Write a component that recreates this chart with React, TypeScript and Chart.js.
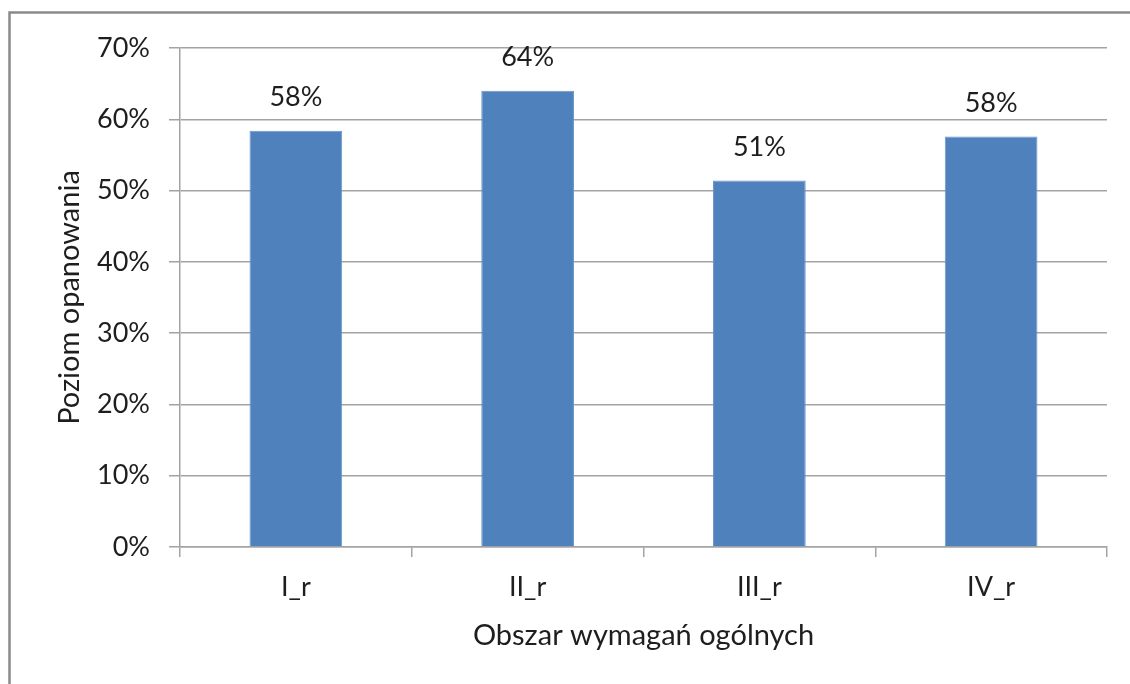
import React, { useEffect, useRef } from "react";
import { Chart, registerables } from "chart.js";

Chart.register(...registerables);

const categories = ["I_r", "II_r", "III_r", "IV_r"];
const values = [58.4, 64.0, 51.4, 57.6];
const yTicks = [0, 10, 20, 30, 40, 50, 60, 70];

const FONT = "Lato, 'Open Sans', sans-serif";
const TEXT = "#1e1e1e";
const GRID = "#a3a3a3";

const frame = {
  id: "frame",
  beforeDraw(chart: any) {
    const { ctx } = chart;
    ctx.save();
    ctx.fillStyle = "#ffffff";
    ctx.fillRect(0, 0, chart.width, chart.height);
    ctx.strokeStyle = "#8a8a8a";
    ctx.lineWidth = 2.5;
    ctx.beginPath();
    ctx.moveTo(9.5, chart.height + 5);
    ctx.lineTo(9.5, 12.5);
    ctx.lineTo(chart.width + 5, 12.5);
    ctx.stroke();
    ctx.restore();
  },
};

const valueLabels = {
  id: "valueLabels",
  afterDatasetsDraw(chart: any) {
    const { ctx } = chart;
    const meta = chart.getDatasetMeta(0);
    ctx.save();
    ctx.font = `27px ${FONT}`;
    ctx.fillStyle = TEXT;
    ctx.textAlign = "center";
    ctx.textBaseline = "middle";
    meta.data.forEach((el: any, i: number) => {
      const v = chart.data.datasets[0].data[i] as number;
      ctx.fillText(Math.round(v) + "%", el.x, el.y - 33);
    });
    ctx.restore();
  },
};

export default function App() {
  const ref = useRef<HTMLCanvasElement>(null);
  useEffect(() => {
    if (!ref.current) return;
    const chart = new Chart(ref.current, {
      type: "bar",
      data: {
        labels: categories,
        datasets: [
          {
            data: values,
            backgroundColor: "#4f81bd",
            borderColor: "#6a95c9",
            borderWidth: 1,
            barPercentage: 0.4,
            categoryPercentage: 1,
          },
        ],
      },
      options: {
        animation: false,
        responsive: false,
        maintainAspectRatio: false,
        layout: { padding: { left: 0, top: 48, right: 23, bottom: 0 } },
        plugins: {
          legend: { display: false },
          tooltip: { enabled: false },
        },
        scales: {
          x: {
            offset: true,
            grid: {
              offset: true,
              drawOnChartArea: false,
              drawTicks: true,
              tickLength: 10,
              color: GRID,
              lineWidth: 1.5,
            },
            border: { color: GRID, width: 1.5 },
            ticks: {
              color: TEXT,
              font: { family: FONT, size: 27 },
              padding: 14,
            },
            title: {
              display: true,
              text: "Obszar wymagań ogólnych",
              color: TEXT,
              font: { family: FONT, size: 29 },
              padding: { top: 0, bottom: 30.5 },
            },
            afterFit(scale: any) {
              scale.height = 137;
            },
          },
          y: {
            min: 0,
            max: 70,
            afterBuildTicks(scale: any) {
              scale.ticks = yTicks.map((v) => ({ value: v }));
            },
            grid: {
              color: GRID,
              lineWidth: 1.5,
              tickLength: 11,
            },
            border: { color: GRID, width: 1.5 },
            ticks: {
              color: TEXT,
              font: { family: FONT, size: 27 },
              padding: 19,
              callback: (v: any) => v + "%",
            },
            title: {
              display: true,
              text: "Poziom opanowania",
              color: TEXT,
              font: { family: FONT, size: 29 },
              padding: { top: 52.5, bottom: 0 },
            },
            afterFit(scale: any) {
              scale.width = 180;
            },
          },
        },
      },
      plugins: [frame, valueLabels],
    });
    return () => chart.destroy();
  }, []);
  return (
    <div style={{ position: "fixed", left: 0, top: 0, width: 1130, height: 684 }}>
      <canvas ref={ref} width={1130} height={684} style={{ display: "block" }} />
    </div>
  );
}
